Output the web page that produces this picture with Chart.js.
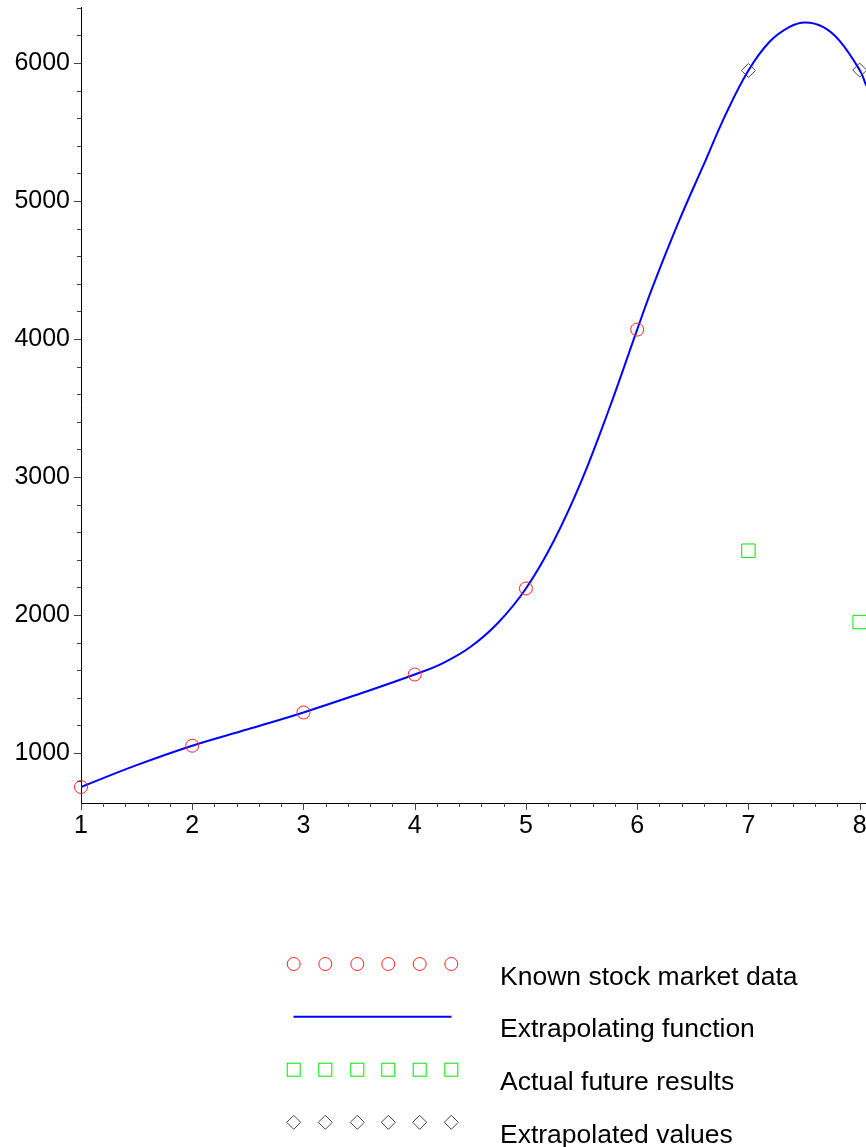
<!DOCTYPE html>
<html>
<head>
<meta charset="utf-8">
<script src="https://cdn.jsdelivr.net/npm/chart.js@4/dist/chart.umd.min.js"></script>
<style>
  body { margin: 0; background: #fff; }
  #wrap { position: relative; width: 866px; height: 1147px; overflow: hidden; }
  #myChart { position: absolute; left: 0; top: 0; }
  #legenda { position: absolute; left: 0; top: 0; }
</style>
</head>
<body>
<div id="wrap">
  <canvas id="myChart" width="866" height="860"></canvas>
  <svg id="legenda" width="866" height="1147"></svg>
</div>
<script>
// valores
const knownX = [1, 2, 3, 4, 5, 6];
const knownY = [754, 1053, 1294, 1569, 2192, 4068];

const curveX = [1, 1.5, 2, 2.5, 3, 3.5, 4, 4.25, 4.5, 4.75, 5, 5.25, 5.5, 5.75, 6,
                6.14, 6.38, 6.59, 6.8, 7, 7.19, 7.37, 7.51, 7.67, 7.82, 8, 8.06];
const curveY = [754, 912, 1053, 1172, 1294, 1428, 1569, 1650, 1768, 1944, 2192, 2536, 2973, 3498, 4068,
                4379, 4862, 5248, 5634, 5945, 6153, 6261, 6293, 6261, 6160, 5948, 5835];

const actualX = [7, 8];
const actualY = [2466, 1949];

const extrapX = [7, 8];
const extrapY = [5945, 5948];

const xTickLabels = [1, 2, 3, 4, 5, 6, 7, 8];
const yTickLabels = [1000, 2000, 3000, 4000, 5000, 6000];

const legendLabels = ['Known stock market data', 'Extrapolating function', 'Actual future results', 'Extrapolated values'];

function pares(xs, ys){
    return xs.map(function(v, i){ return {x: v, y: ys[i]}; });
}

const fonte = "'Liberation Sans', Arial, sans-serif";

// marcas menores e maiores dos eixos
const marcas = {
    id: 'marcas',
    afterDraw: function(chart){
        const ctx = chart.ctx;
        const sx = chart.scales.x, sy = chart.scales.y;
        ctx.save();
        ctx.strokeStyle = '#444';
        ctx.lineWidth = 1;
        ctx.beginPath();
        for (let k = Math.ceil(sx.min * 5); k <= Math.floor(sx.max * 5); k++){
            const px = Math.round(sx.getPixelForValue(k / 5)) + 0.5;
            const len = (k % 5 === 0) ? 7 : 4;
            ctx.moveTo(px, sx.top);
            ctx.lineTo(px, sx.top + len);
        }
        for (let k = Math.ceil(sy.min / 200); k <= Math.floor(sy.max / 200); k++){
            const py = Math.round(sy.getPixelForValue(k * 200)) + 0.5;
            const len = (k % 5 === 0) ? 7 : 4;
            ctx.moveTo(sy.right, py);
            ctx.lineTo(sy.right - len, py);
        }
        ctx.stroke();
        ctx.restore();
    }
};

var ctx = document.getElementById('myChart');
var myChart = new Chart(ctx, {
    type: 'scatter',
    data: {
        datasets: [{
            label: legendLabels[1],
            data: pares(curveX, curveY),
            showLine: true,
            borderColor: '#0000ff',
            borderWidth: 2,
            pointRadius: 0,
            tension: 0.4,
            order: 4
        }, {
            label: legendLabels[0],
            data: pares(knownX, knownY),
            pointStyle: 'circle',
            pointRadius: 6.5,
            borderColor: '#ff2020',
            backgroundColor: 'rgba(0,0,0,0)',
            borderWidth: 1,
            clip: false,
            order: 1
        }, {
            label: legendLabels[2],
            data: pares(actualX, actualY),
            pointStyle: 'rect',
            pointRadius: 9.5,
            borderColor: '#00e600',
            backgroundColor: 'rgba(0,0,0,0)',
            borderWidth: 1,
            clip: false,
            order: 2
        }, {
            label: legendLabels[3],
            data: pares(extrapX, extrapY),
            pointStyle: 'rectRot',
            pointRadius: 7,
            borderColor: '#444444',
            backgroundColor: 'rgba(0,0,0,0)',
            borderWidth: 1,
            clip: false,
            order: 3
        }]
    },
    options: {
        responsive: false,
        animation: false,
        devicePixelRatio: 1,
        layout: { autoPadding: false, padding: { top: 7, right: 0, left: 0, bottom: 0 } },
        plugins: { legend: { display: false }, tooltip: { enabled: false } },
        scales: {
            x: {
                type: 'linear',
                min: 1,
                max: 8.057,
                afterBuildTicks: function(scale){
                    scale.ticks = xTickLabels.map(function(v){ return {value: v}; });
                },
                afterFit: function(scale){
                    scale.height = 57;
                    scale.paddingLeft = 0;
                    scale.paddingRight = 0;
                },
                ticks: {
                    color: '#000',
                    font: { family: fonte, size: 25 },
                    padding: 8,
                    maxRotation: 0,
                    autoSkip: false,
                    callback: function(v){ return String(v); }
                },
                grid: { drawOnChartArea: false, drawTicks: false },
                border: { display: true, color: '#000', width: 1 }
            },
            y: {
                type: 'linear',
                min: 638,
                max: 6405,
                afterBuildTicks: function(scale){
                    scale.ticks = yTickLabels.map(function(v){ return {value: v}; });
                },
                afterFit: function(scale){
                    scale.width = 81;
                    scale.paddingTop = 0;
                    scale.paddingBottom = 0;
                },
                ticks: {
                    color: '#000',
                    font: { family: fonte, size: 25 },
                    padding: 11,
                    autoSkip: false,
                    callback: function(v){ return String(v); }
                },
                grid: { drawOnChartArea: false, drawTicks: false },
                border: { display: true, color: '#000', width: 1 }
            }
        }
    },
    plugins: [marcas]
});

// legenda desenhada a parte
function legenda(){
    const svg = document.getElementById('legenda');
    const ns = 'http://www.w3.org/2000/svg';
    const colunas = [293.7, 325.3, 357.3, 388.3, 419.7, 451.3];
    const linhas = [964, 1016.7, 1069.7, 1122.3];
    const tipos = ['circle', 'line', 'rect', 'rectRot'];
    const cores = ['#ff2020', '#0000ff', '#00e600', '#444444'];
    function el(nome, attrs){
        const e = document.createElementNS(ns, nome);
        for (const k in attrs) e.setAttribute(k, attrs[k]);
        svg.appendChild(e);
        return e;
    }
    tipos.forEach(function(t, i){
        const y = linhas[i];
        if (t === 'line'){
            el('line', {x1: 293.5, y1: y, x2: 451.5, y2: y, stroke: cores[i], 'stroke-width': 2});
        } else {
            colunas.forEach(function(x){
                if (t === 'circle') el('circle', {cx: x, cy: y, r: 6.5, fill: 'none', stroke: cores[i], 'stroke-width': 1});
                if (t === 'rect') el('rect', {x: x - 6.5, y: y - 6.5, width: 13, height: 13, fill: 'none', stroke: cores[i], 'stroke-width': 1});
                if (t === 'rectRot') el('polygon', {points: [x, y - 7, x + 7, y, x, y + 7, x - 7, y].join(' '), fill: 'none', stroke: cores[i], 'stroke-width': 1});
            });
        }
        const tx = el('text', {x: 500, y: y + 20.5, 'font-family': fonte, 'font-size': 26.5, fill: '#000'});
        tx.textContent = legendLabels[i];
    });
}
legenda();
</script>
</body>
</html>
